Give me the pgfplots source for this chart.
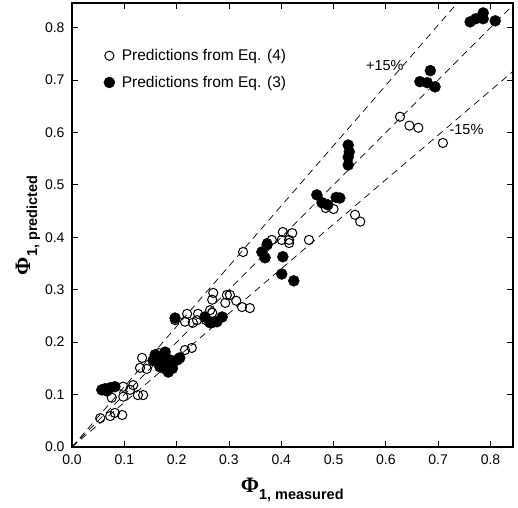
\documentclass[border=0pt]{standalone}
\usepackage{fontspec}
\setmainfont{Liberation Sans}
\newfontfamily\phifont{Liberation Serif}
\usepackage{pgfplots}
\pgfplotsset{compat=1.18}
\newcommand{\PhiSym}{{\phifont\bfseries\fontsize{22}{24}\selectfont Φ}}

\begin{document}
\begin{tikzpicture}
\begin{axis}[
    scale only axis,
    width=441pt, height=444pt,
    xmin=0, xmax=0.843,
    ymin=0, ymax=0.847,
    xtick={0,0.1,...,0.8},
    ytick={0,0.1,...,0.8},
    tick align=inside,
    major tick length=6pt,
    axis line style={line width=1.2pt},
    tick style={line width=0.8pt, black},
    /pgf/number format/assume math mode=true,
    /pgf/number format/.cd, fixed, fixed zerofill, precision=1, /pgfplots/.cd,
    tick label style={font=\fontsize{14}{16}\selectfont},
    xticklabel style={yshift=-4pt},
    yticklabel style={xshift=-4pt},
    xlabel={\PhiSym\textsubscript{\fontsize{14.5}{16}\selectfont\bfseries 1, measured}},
    ylabel={\PhiSym\textsubscript{\fontsize{14.5}{16}\selectfont\bfseries 1, predicted}},
    xlabel style={yshift=-7pt},
    ylabel style={yshift=-2pt},
    legend style={draw=none, fill=none, at={(0.065,0.905)}, anchor=north west,
        font=\fontsize{15.5}{18}\selectfont, row sep=10pt,
        /tikz/every odd column/.append style={column sep=5pt}},
    legend cell align=left,
    clip=true,
]
% Eq. (4) predictions (open)
\addplot[only marks, mark=o, mark size=4.6pt, mark options={line width=1pt}] coordinates {
(0.054,0.055)(0.073,0.059)(0.082,0.065)(0.096,0.061)(0.076,0.094)
(0.098,0.096)(0.098,0.115)(0.111,0.109)(0.117,0.118)(0.126,0.099)
(0.136,0.099)(0.130,0.151)(0.143,0.149)(0.134,0.170)(0.166,0.179)
(0.216,0.185)(0.229,0.189)(0.197,0.242)(0.220,0.254)(0.216,0.239)
(0.231,0.237)(0.241,0.254)(0.239,0.242)(0.256,0.242)(0.264,0.261)
(0.268,0.256)(0.270,0.237)(0.270,0.294)(0.268,0.281)(0.296,0.290)
(0.302,0.290)(0.293,0.275)(0.314,0.279)(0.325,0.267)(0.340,0.265)
(0.327,0.372)(0.373,0.389)(0.382,0.395)(0.403,0.410)(0.421,0.408)
(0.401,0.395)(0.415,0.395)(0.415,0.389)(0.453,0.395)(0.485,0.456)
(0.500,0.454)(0.541,0.443)(0.551,0.430)(0.627,0.630)(0.645,0.613)
(0.662,0.609)(0.709,0.580)
};
\addlegendentry{Predictions from Eq. (4)}
% Eq. (3) predictions (filled)
\addplot[only marks, mark=*, mark size=5.5pt] coordinates {
(0.057,0.109)(0.063,0.111)(0.067,0.107)(0.073,0.113)(0.082,0.115)
(0.159,0.176)(0.170,0.172)(0.178,0.181)(0.187,0.166)(0.168,0.153)
(0.176,0.160)(0.184,0.143)(0.192,0.150)(0.201,0.166)(0.206,0.170)
(0.172,0.166)(0.174,0.151)(0.155,0.165)
(0.197,0.246)(0.254,0.248)(0.264,0.237)(0.277,0.239)(0.287,0.248)
(0.363,0.372)(0.369,0.361)(0.373,0.386)(0.403,0.363)(0.401,0.330)
(0.424,0.317)(0.468,0.481)(0.478,0.466)(0.489,0.462)(0.505,0.476)
(0.512,0.475)(0.528,0.576)(0.530,0.563)(0.528,0.553)(0.528,0.538)
(0.665,0.697)(0.679,0.695)(0.685,0.718)(0.694,0.687)
(0.761,0.811)(0.772,0.817)(0.786,0.828)(0.786,0.817)(0.809,0.813)
};
\addlegendentry{Predictions from Eq. (3)}
% reference lines
\addplot[black, line width=0.7pt, dash pattern=on 7pt off 5pt, forget plot] coordinates {(0,0)(0.7365,0.847)};
\addplot[black, line width=0.7pt, dash pattern=on 7pt off 5pt, forget plot] coordinates {(0,0)(0.843,0.843)};
\addplot[black, line width=0.7pt, dash pattern=on 7pt off 5pt, forget plot] coordinates {(0,0)(0.843,0.7166)};
\node[anchor=south, font=\fontsize{14.5}{16}\selectfont] at (axis cs:0.598,0.712) {+15\%};
\node[anchor=west, font=\fontsize{14.5}{16}\selectfont] at (axis cs:0.715,0.605) {-15\%};
\end{axis}
\pgfresetboundingbox
\path ([shift={(-72pt,-61pt)}]current axis.south west) rectangle ([shift={(5pt,3pt)}]current axis.north east);
\end{tikzpicture}
\end{document}
